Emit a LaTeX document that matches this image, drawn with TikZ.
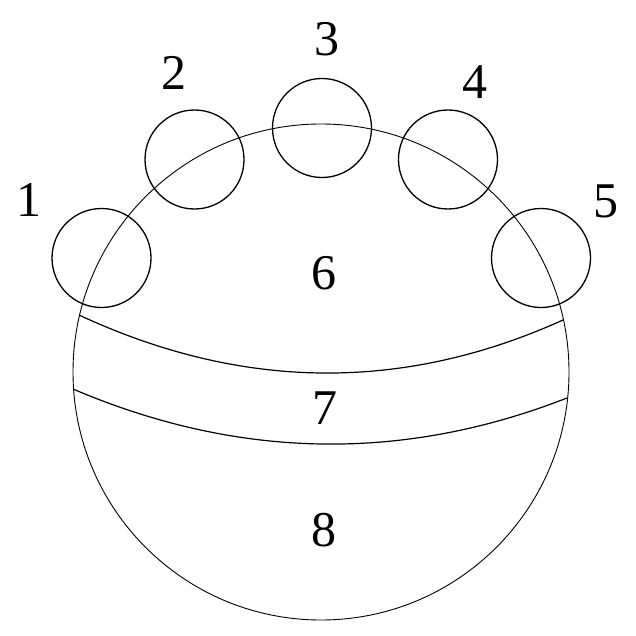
\documentclass[tikz,border=0pt]{standalone}
\usepackage{fontspec}
\setmainfont{Liberation Serif}
\begin{document}
\begin{tikzpicture}[x=1pt,y=-1pt,
  smallc/.style={draw,circle,line width=1.3pt,minimum size=99pt,inner sep=0pt},
  bigc/.style={draw,circle,line width=0.9pt,minimum size=496pt,inner sep=0pt},
  band/.style={line width=1.2pt},
  lbl/.style={inner sep=0pt,font=\fontsize{50}{60}\selectfont}]
\useasboundingbox (0,0) rectangle (636,636);
\node[bigc] (big) at (321,372) {};
\node[smallc] (s1) at (101.5,258) {};
\node[smallc] (s2) at (194.5,159.5) {};
\node[smallc] (s3) at (322,128) {};
\node[smallc] (s4) at (448,159.5) {};
\node[smallc] (s5) at (541,258) {};
\coordinate (ul) at (79,315);
\coordinate (ur) at (563,320);
\coordinate (ll) at (73,389);
\coordinate (lr) at (567,398);
\draw[band] (ul) .. controls (241.7,390.7) and (403,392.3) .. (ur);
\draw[band] (ll) .. controls (237.7,459.3) and (402.3,462.3) .. (lr);
\node[lbl] (l1) at (29,200) {1};
\node[lbl] (l2) at (173.5,72.5) {2};
\node[lbl] (l3) at (327,39) {3};
\node[lbl] (l4) at (475,82) {4};
\node[lbl] (l5) at (606,201) {5};
\node[lbl] (l6) at (323.5,273) {6};
\node[lbl] (l7) at (325,408) {7};
\node[lbl] (l8) at (324,530) {8};
\end{tikzpicture}
\end{document}
